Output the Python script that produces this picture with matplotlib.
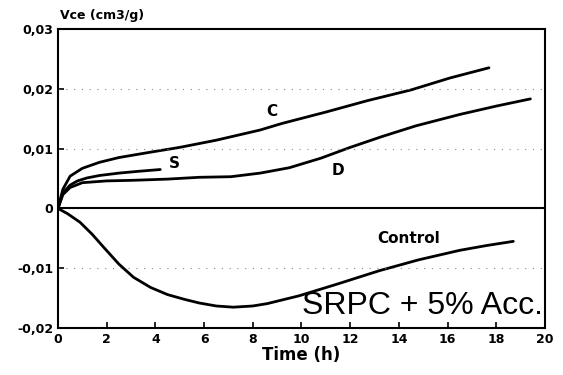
import matplotlib.pyplot as plt
import numpy as np

# curves
t_c = [0, 0.2, 0.5, 1.0, 1.7, 2.5, 3.8, 5.0, 6.5, 8.3, 9.2, 11.0, 12.7, 14.5, 16.1, 17.7]
v_c = [0, 0.0032, 0.0054, 0.0067, 0.0077, 0.0085, 0.0094, 0.0102, 0.0114, 0.0131, 0.0142, 0.0161, 0.0180, 0.0198, 0.0218, 0.0235]

t_s = [0, 0.2, 0.5, 0.8, 1.2, 1.7, 2.5, 3.3, 4.2]
v_s = [0, 0.0026, 0.0039, 0.0046, 0.0051, 0.0055, 0.0059, 0.0062, 0.0065]

t_d = [0, 0.2, 0.5, 1.0, 2.0, 3.1, 4.5, 5.8, 7.1, 8.3, 9.5, 10.8, 12.0, 13.3, 14.7, 16.5, 18.0, 19.4]
v_d = [0, 0.0023, 0.0035, 0.0043, 0.0046, 0.0047, 0.0049, 0.0052, 0.0053, 0.0059, 0.0068, 0.0084, 0.0102, 0.0120, 0.0138, 0.0157, 0.0171, 0.0183]

t_ctl = [0, 0.4, 0.9, 1.4, 1.9, 2.5, 3.1, 3.8, 4.5, 5.2, 5.8, 6.5, 7.2, 8.0, 8.6, 9.9, 11.5, 13.2, 14.8, 16.5, 17.6, 18.7]
v_ctl = [0, -0.0009, -0.0023, -0.0043, -0.0066, -0.0093, -0.0115, -0.0132, -0.0144, -0.0152, -0.0158, -0.0163, -0.0165, -0.0163, -0.0159, -0.0146, -0.0126, -0.0104, -0.0086, -0.0070, -0.0062, -0.0055]

xticks = [0, 2, 4, 6, 8, 10, 12, 14, 16, 18, 20]
yticks = [-0.02, -0.01, 0, 0.01, 0.02, 0.03]
ylabels = ['-0,02', '-0,01', '0', '0,01', '0,02', '0,03']

fig = plt.figure(figsize=(5.63, 3.75), dpi=100)
ax = fig.add_axes([0.103, 0.125, 0.865, 0.798])

for tt, vv in [(t_c, v_c), (t_s, v_s), (t_d, v_d), (t_ctl, v_ctl)]:
    ax.plot(tt, vv, color='black', lw=2.0, solid_capstyle='round', solid_joinstyle='round')

ax.axhline(0, color='black', lw=1.5)
for yy in [0.02, 0.01, -0.01]:
    ax.axhline(yy, color='#888888', lw=0.8, ls=(0, (1, 6)))

ax.set_xlim(0, 20)
ax.set_ylim(-0.02, 0.03)
ax.set_xticks(xticks)
ax.set_xticklabels([str(x) for x in xticks], fontsize=9, fontweight='bold')
ax.set_yticks(yticks)
ax.set_yticklabels(ylabels, fontsize=9, fontweight='bold')
ax.tick_params(direction='in', length=4, width=1.2)
for s in ax.spines.values():
    s.set_linewidth(1.5)

ax.set_xlabel('Time (h)', fontsize=12, fontweight='bold', labelpad=0)
ax.text(0.1, 0.0312, 'Vce (cm3/g)', fontsize=9, fontweight='bold', va='bottom', ha='left')

ax.text(8.8, 0.0162, 'C', fontsize=11, fontweight='bold', ha='center', va='center')
ax.text(4.8, 0.0075, 'S', fontsize=11, fontweight='bold', ha='center', va='center')
ax.text(11.5, 0.0063, 'D', fontsize=11, fontweight='bold', ha='center', va='center')
ax.text(14.4, -0.0050, 'Control', fontsize=11, fontweight='bold', ha='center', va='center')
ax.text(19.9, -0.0163, 'SRPC + 5% Acc.', fontsize=23, family='Liberation Sans',
        ha='right', va='center')

fig.savefig('out.png')
